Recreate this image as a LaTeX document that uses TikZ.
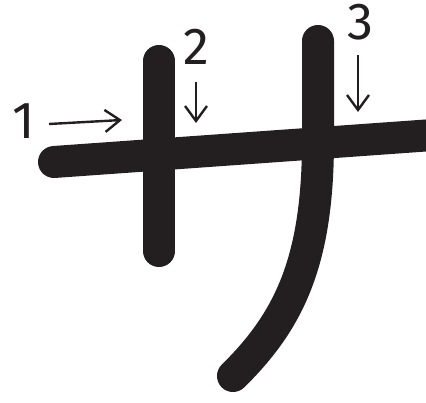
\documentclass[tikz,border=0pt]{standalone}
\usepackage{fontspec}
\newfontfamily\digitfont{Fira Sans}
\usetikzlibrary{arrows.meta}
\definecolor{ink}{HTML}{231F20}
\begin{document}
\begin{tikzpicture}[x=1pt, y=-1pt,
  kanastroke/.style={draw=ink, line width=32pt, line cap=round},
  orderarrow/.style={draw=ink, line width=2.4pt, -{Straight Barb[length=15pt, width=22pt]}},
  every node/.style={inner sep=0pt, text=ink, font=\digitfont\fontsize{52}{52}\selectfont}]
  \useasboundingbox (0,0) rectangle (426,403);
  \clip (0,0) rectangle (426,403);
  % strokes of the character
  \draw[kanastroke] (54,162) -- (440,134.5);
  \draw[kanastroke] (159,61) -- (159,251);
  \draw[kanastroke] (318,41) -- (318,140)
    .. controls (318,260) and (290,320) .. (233,376);
  % stroke order numbers
  \node (num1) at (24,121) {1};
  \node (num2) at (196,47) {2};
  \node (num3) at (360,22) {3};
  \coordinate (a1s) at (49,124);
  \coordinate (a1e) at (122,120);
  \coordinate (a2s) at (196,82);
  \coordinate (a2e) at (196,123);
  \coordinate (a3s) at (358,55);
  \coordinate (a3e) at (358,112);
  \draw[orderarrow] (a1s) -- (a1e);
  \draw[orderarrow] (a2s) -- (a2e);
  \draw[orderarrow] (a3s) -- (a3e);
\end{tikzpicture}
\end{document}
